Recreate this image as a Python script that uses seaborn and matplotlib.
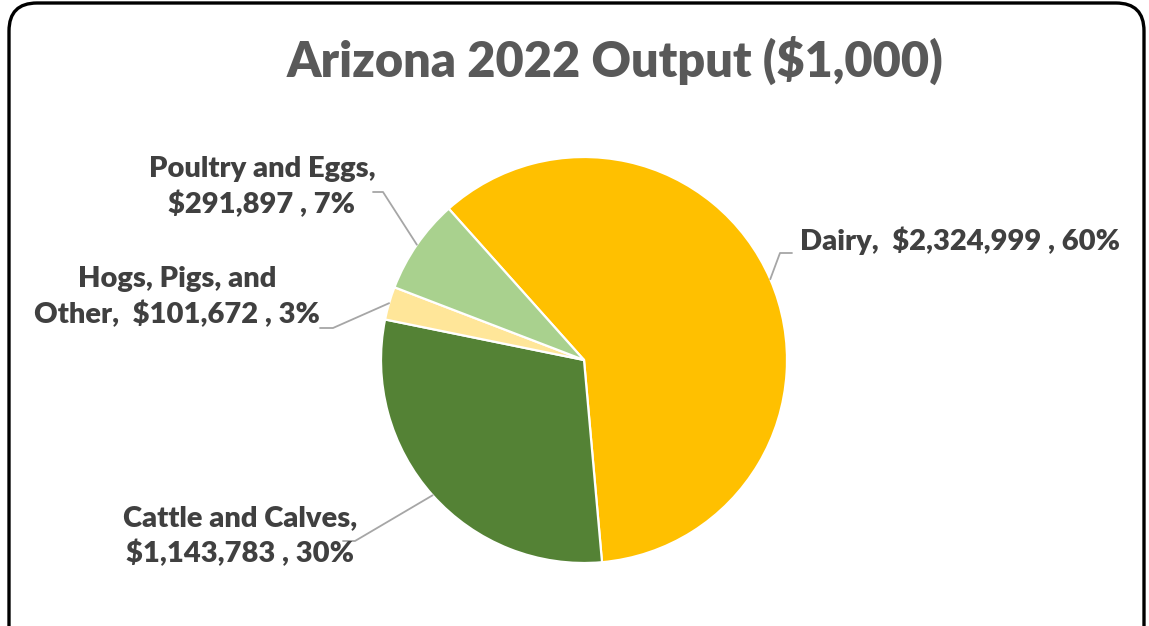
import matplotlib
matplotlib.use("Agg")
import matplotlib.pyplot as plt
import matplotlib.patches as mpatches
import numpy as np
import seaborn as sns

# data
categories = ["Dairy", "Cattle and Calves", "Hogs, Pigs, and\nOther", "Poultry and Eggs"]
values = [2324999, 1143783, 101672, 291897]
pct_labels = [60, 30, 3, 7]
separators = ["  ", "\n", "  ", "\n"]
colors = ["#FFC000", "#548235", "#FFE699", "#A9D18E"]

sns.set_style("white")
plt.rcParams["font.family"] = ["Lato", "DejaVu Sans"]

W, H = 1149, 626
fig = plt.figure(figsize=(W / 100, H / 100), dpi=100)
ax = fig.add_axes([0, 0, 1, 1])

cx, cy, r = 584, H - 360, 203
wedges, _ = ax.pie(values, colors=sns.color_palette(colors), startangle=131.8,
                   counterclock=False, center=(cx, cy), radius=r,
                   wedgeprops=dict(edgecolor="white", linewidth=1.6))

ax.set_xlim(0, W)
ax.set_ylim(0, H)
ax.set_aspect("equal")
ax.axis("off")

# label layout: (text x, text y, ha, elbow x, line end x, line y)
layout = [
    (800, H - 241, "left", 780, 792, H - 253),
    (240, H - 536, "center", 355, 343, H - 541),
    (177, H - 297, "center", 333, 320, H - 328),
    (262, H - 187, "center", 383, 373, H - 192),
]

for w, name, val, pct, sep, (tx, ty, ha, ex, lx, ly) in zip(
        wedges, categories, values, pct_labels, separators, layout):
    mid = np.deg2rad((w.theta1 + w.theta2) / 2)
    px, py = cx + r * np.cos(mid), cy + r * np.sin(mid)
    ax.plot([px, ex, lx], [py, ly, ly], color="#A6A6A6", lw=1.3, zorder=1)
    ax.text(tx, ty, f"{name},{sep}${val:,} , {pct}%", ha=ha, va="center",
            fontsize=21, fontweight="heavy", color="#404040", linespacing=1.4)

ax.text(615, H - 60, "Arizona 2022 Output ($1,000)", ha="center", va="center",
        fontsize=35, fontweight="heavy", color="#595959")

border = mpatches.FancyBboxPatch((9, -40), 1135, 663,
                                 boxstyle="round,pad=0,rounding_size=28",
                                 fill=False, edgecolor="black", linewidth=2.4,
                                 clip_on=False)
ax.add_patch(border)

fig.savefig("out.png", dpi=100)
